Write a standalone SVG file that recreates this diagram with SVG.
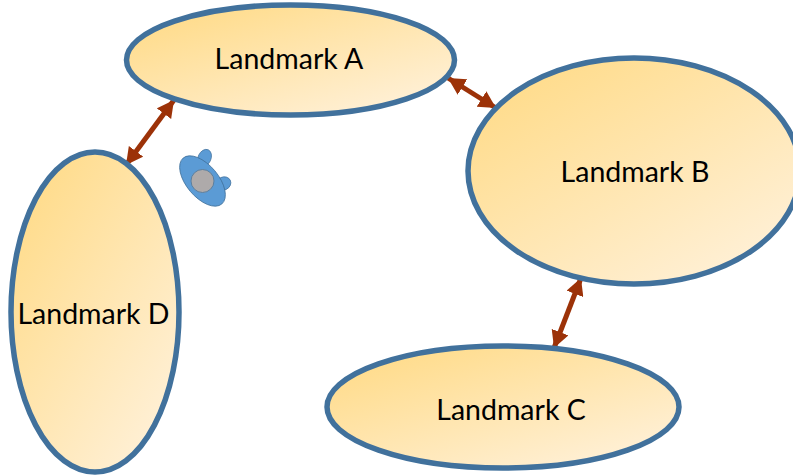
<svg xmlns="http://www.w3.org/2000/svg" width="793" height="476" viewBox="0 0 793 476">
<style>
.lm{stroke:#41719c;stroke-width:5.500}
.lmf{fill:url(#g)}
text{font-family:Lato,"Open Sans","Liberation Sans",sans-serif;font-size:28.5px;fill:#000;text-anchor:middle}
.c{fill:none;stroke:#9c3208;stroke-width:5;marker-start:url(#a);marker-end:url(#a)}
</style>
<defs>
<linearGradient id="g" x1="0.15" y1="0.1" x2="0.9" y2="0.95">
<stop offset="0" stop-color="#ffdc8c"/><stop offset="1" stop-color="#fff1da"/>
</linearGradient>
<marker id="a" markerUnits="userSpaceOnUse" markerWidth="18" markerHeight="18" refX="17" refY="9" orient="auto-start-reverse" viewBox="0 0 18 18">
<path d="M0 0L17 9L0 18Z" fill="#9c3208"/>
</marker>
</defs>
<g id="connectors">
<path class="c" d="M448 78L496 108"/>
<path class="c" d="M174 100L126 165"/>
<path class="c" d="M581 278L554 348"/>
</g>
<g id="landmark-a"><ellipse class="lm lmf" cx="290.500" cy="60" rx="164" ry="55"/><text x="289" y="69">Landmark A</text></g>
<g id="landmark-b"><ellipse class="lm lmf" cx="634" cy="171" rx="166" ry="113"/><text x="635" y="182">Landmark B</text></g>
<g id="landmark-c"><ellipse class="lm lmf" cx="503" cy="407" rx="176" ry="61"/><text x="511" y="420">Landmark C</text></g>
<g id="landmark-d"><ellipse class="lm lmf" cx="95" cy="312" rx="84" ry="160"/><text x="93.500" y="324">Landmark D</text></g>
<g id="agent">
<ellipse cx="204.500" cy="158" rx="6.500" ry="9" transform="rotate(25 204.500 158)" fill="#5b9bd5" stroke="#41719c" stroke-width="0.700" />
<ellipse cx="223.500" cy="183.500" rx="6.500" ry="7.500" transform="rotate(65 223.500 183.500)" fill="#5b9bd5" stroke="#41719c" stroke-width="0.700" />
<ellipse cx="202.500" cy="181" rx="16" ry="30" transform="rotate(-40 202.500 181)" fill="#5b9bd5" stroke="#41719c" stroke-width="0.800"/>
<circle cx="202.500" cy="181" r="11.500" fill="#aeaaaa" stroke="#5b7f9f" stroke-width="1"/>
</g>
</svg>
